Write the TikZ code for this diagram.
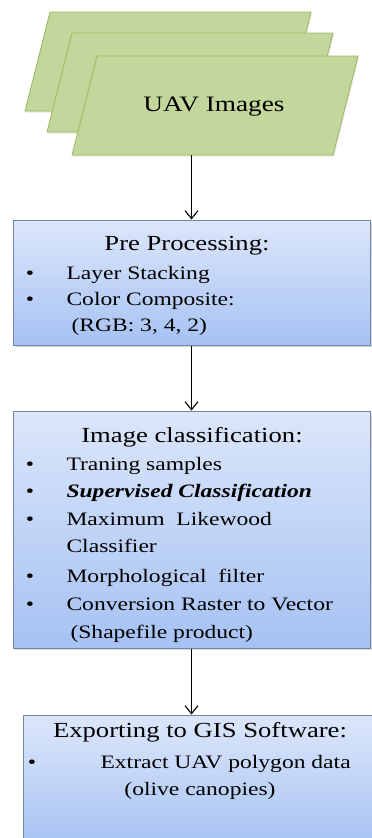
\documentclass[tikz,border=0pt]{standalone}
\usepackage{fontspec}
\setmainfont[FakeStretch=1.24]{Liberation Serif}
\usetikzlibrary{shadows,arrows.meta}
\definecolor{slabgreen}{HTML}{C3D69B}
\definecolor{slabline}{HTML}{9CB762}
\definecolor{boxtop}{HTML}{DCE6FA}
\definecolor{boxbottom}{HTML}{A6C2F3}
\definecolor{boxline}{HTML}{7186A8}

\begin{document}
\begin{tikzpicture}[x=1pt, y=-1pt,
    slab/.style={fill=slabgreen, draw=slabline, line width=0.8pt,
        drop shadow={opacity=0.2, shadow xshift=1pt, shadow yshift=-1.5pt}},
    stepbox/.style={draw=boxline, line width=1pt, top color=boxtop, bottom color=boxbottom,
        inner sep=0pt, drop shadow={opacity=0.3, shadow xshift=1.5pt, shadow yshift=-2pt}},
    head/.style={anchor=base, font=\fontsize{21.5}{25}\selectfont},
    item/.style={anchor=base west, font=\fontsize{19}{23}\selectfont},
    dot/.style={anchor=base, font=\fontsize{19}{23}\selectfont},
    flow/.style={-{Straight Barb[length=8pt,width=13pt]}, line width=1.1pt}]
    \useasboundingbox (0,0) rectangle (372,838);
    \clip (0,0) rectangle (372,838);

    % input images
    \foreach \dx/\dy in {-47/-44, -25/-23, 0/0}
        \path[slab, shift={(\dx,\dy)}] (97,56) -- (358,56) -- (333,155) -- (72,155) -- cycle;
    \node[font=\fontsize{22}{26}\selectfont] (uav) at (214,107) {UAV Images};
    \coordinate (imgbase) at (202,155);

    % pre processing
    \node[stepbox, minimum width=357, minimum height=125] (pre) at (191.5,282.5) {};
    \node[head] (pretitle) at (187,250) {Pre Processing:};
    \foreach \y in {279,305} \node[dot] (pred\y) at (30,\y) {\textbullet};
    \node[item] (prei1) at (63,279) {Layer Stacking};
    \node[item] (prei2) at (63,305) {Color Composite:};
    \node[item] (prei3) at (68,331) {(RGB: 3, 4, 2)};

    % classification
    \node[stepbox, minimum width=357, minimum height=237] (cls) at (191.5,529.5) {};
    \node[head] (clstitle) at (192,442) {Image classification:};
    \foreach \y in {470,497,525,582,610} \node[dot] (clsd\y) at (30,\y) {\textbullet};
    \node[item] (clsi1) at (63,470) {Traning samples};
    \node[item] (clsi2) at (63,497) {\textbf{\textit{Supervised Classification}}};
    \node[item] (clsi3) at (63,525) {Maximum \ Likewood};
    \node[item] (clsi4) at (63,552) {Classifier};
    \node[item] (clsi5) at (63,582) {Morphological \ filter};
    \node[item] (clsi6) at (63,610) {Conversion Raster to Vector};
    \node[item] (clsi7) at (67,638) {(Shapefile product)};

    % export
    \node[stepbox, minimum width=356, minimum height=135] (gis) at (201,782.5) {};
    \node[head] (gistitle) at (200,737) {Exporting to GIS Software:};
    \node[dot] (gisd1) at (32,768) {\textbullet};
    \node[item] (gisi1) at (97,768) {Extract UAV polygon data};
    \node[dot] (gisi2) at (200,795) {(olive canopies)};

    % arrows
    \draw[flow] (imgbase -| pre.north) -- (pre.north);
    \draw[flow] (pre.south) -- (cls.north);
    \draw[flow] (cls.south) -- (cls.south |- gis.north);
\end{tikzpicture}
\end{document}
